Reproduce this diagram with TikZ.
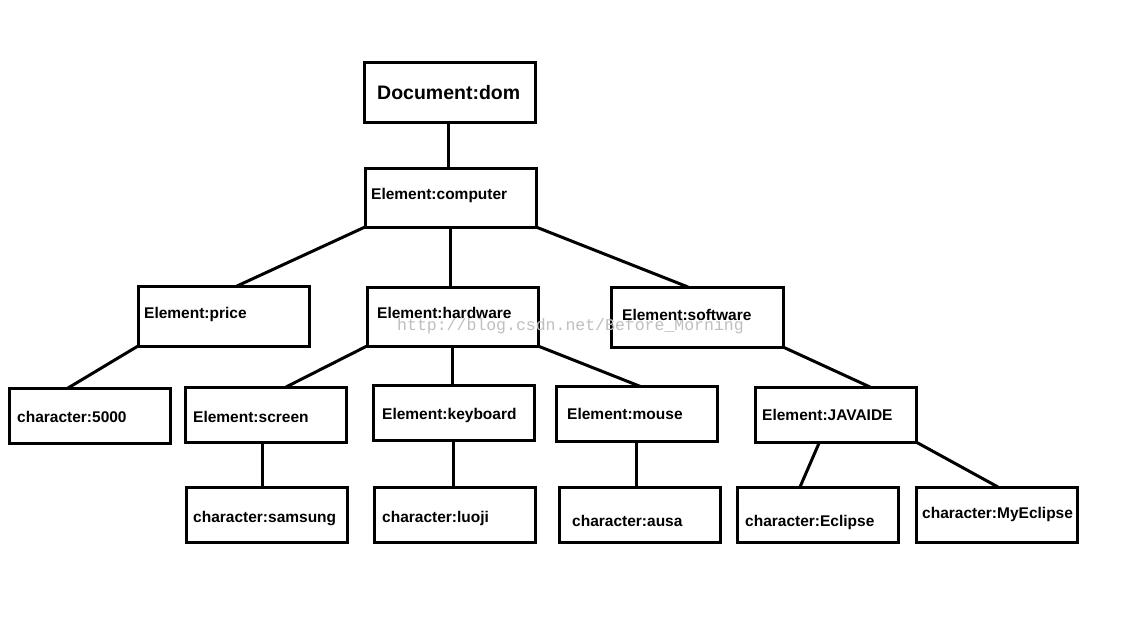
\documentclass[tikz,border=0pt]{standalone}
\usepackage{fontspec}
\setmainfont{Liberation Sans}
\newfontfamily\wmfont{Liberation Mono}
\begin{document}
\begin{tikzpicture}[x=1pt,y=-1pt,
  box/.style={draw=black,line width=3pt,minimum width=#1,outer sep=0pt,inner sep=0pt},
  bigbox/.style={box=171pt,minimum height=59pt},
  smallbox/.style={box=161pt,minimum height=55pt},
  lbl/.style={anchor=base west,inner sep=0pt,font=\bfseries\fontsize{15.5}{18}\selectfont},
  link/.style={draw=black,line width=3pt}]
\useasboundingbox[fill=white] (0,0) rectangle (1125,629);
% boxes
\node[bigbox,minimum height=60pt] (dom) at (449.5,92) {};
\node[bigbox] (comp) at (450.5,197.5) {};
\node[bigbox,minimum height=60pt] (price) at (223.5,316) {};
\node[bigbox] (hw) at (452.5,316.5) {};
\node[box=172pt,minimum height=60pt] (sw) at (697,317) {};
\node[smallbox] (c5000) at (89.5,415.5) {};
\node[smallbox] (screen) at (265.5,414.5) {};
\node[smallbox] (kb) at (454,413) {};
\node[smallbox] (mouse) at (637,414) {};
\node[smallbox] (jide) at (835.5,414.5) {};
\node[smallbox] (sams) at (267,515) {};
\node[smallbox] (luoji) at (455,515) {};
\node[smallbox] (ausa) at (640,515) {};
\node[smallbox] (ecl) at (817.5,514.5) {};
\node[smallbox] (myecl) at (997,514.5) {};
% watermark
\node[anchor=base west,inner sep=0pt,text=black!25,font=\wmfont\fontsize{16.5}{18}\selectfont] (wm) at (397,330) {http://blog.csdn.net/Before\_Morning};
% labels
\node[lbl,font=\bfseries\fontsize{19.5}{22}\selectfont] (tdom) at (377,99) {Document:dom};
\node[lbl] (tcomp) at (371,199) {Element:computer};
\node[lbl] (tprice) at (144,318) {Element:price};
\node[lbl] (thw) at (377,318) {Element:hardware};
\node[lbl] (tsw) at (622,320) {Element:software};
\node[lbl] (t5000) at (17,422) {character:5000};
\node[lbl] (tscreen) at (193,422) {Element:screen};
\node[lbl] (tkb) at (382,419) {Element:keyboard};
\node[lbl] (tmouse) at (567,419) {Element:mouse};
\node[lbl] (tjide) at (762,420) {Element:JAVAIDE};
\node[lbl] (tsams) at (193,522) {character:samsung};
\node[lbl] (tluoji) at (382,522) {character:luoji};
\node[lbl] (tausa) at (572,526) {character:ausa};
\node[lbl] (tecl) at (745,526) {character:Eclipse};
\node[lbl] (tmyecl) at (922,518) {character:MyEclipse};
% connectors
\draw[link] ([xshift=-1.5pt]dom.south) -- ([xshift=-1.5pt]dom.south |- comp.north);
\draw[link] (comp.south west) -- ([xshift=13.5pt]price.north);
\draw[link] (comp.south) -- (comp.south |- hw.north);
\draw[link] (comp.south east) -- ([xshift=-9pt]sw.north);
\draw[link] (price.south west) -- ([xshift=-21.5pt]c5000.north);
\draw[link] (hw.south west) -- ([xshift=20.5pt]screen.north);
\draw[link] (hw.south) -- (hw.south |- kb.north);
\draw[link] (hw.south east) -- ([xshift=3.5pt]mouse.north);
\draw[link] (sw.south east) -- ([xshift=34.5pt]jide.north);
\draw[link] ([xshift=-3.5pt]screen.south) -- ([xshift=-3.5pt]screen.south |- sams.north);
\draw[link] ([xshift=-1pt]kb.south) -- ([xshift=-1pt]kb.south |- luoji.north);
\draw[link] ([xshift=-1pt]mouse.south) -- ([xshift=-1pt]mouse.south |- ausa.north);
\draw[link] ([xshift=-16pt]jide.south) -- ([xshift=-17.5pt]ecl.north);
\draw[link] (jide.south east) -- ([xshift=1pt]myecl.north);
\end{tikzpicture}
\end{document}
